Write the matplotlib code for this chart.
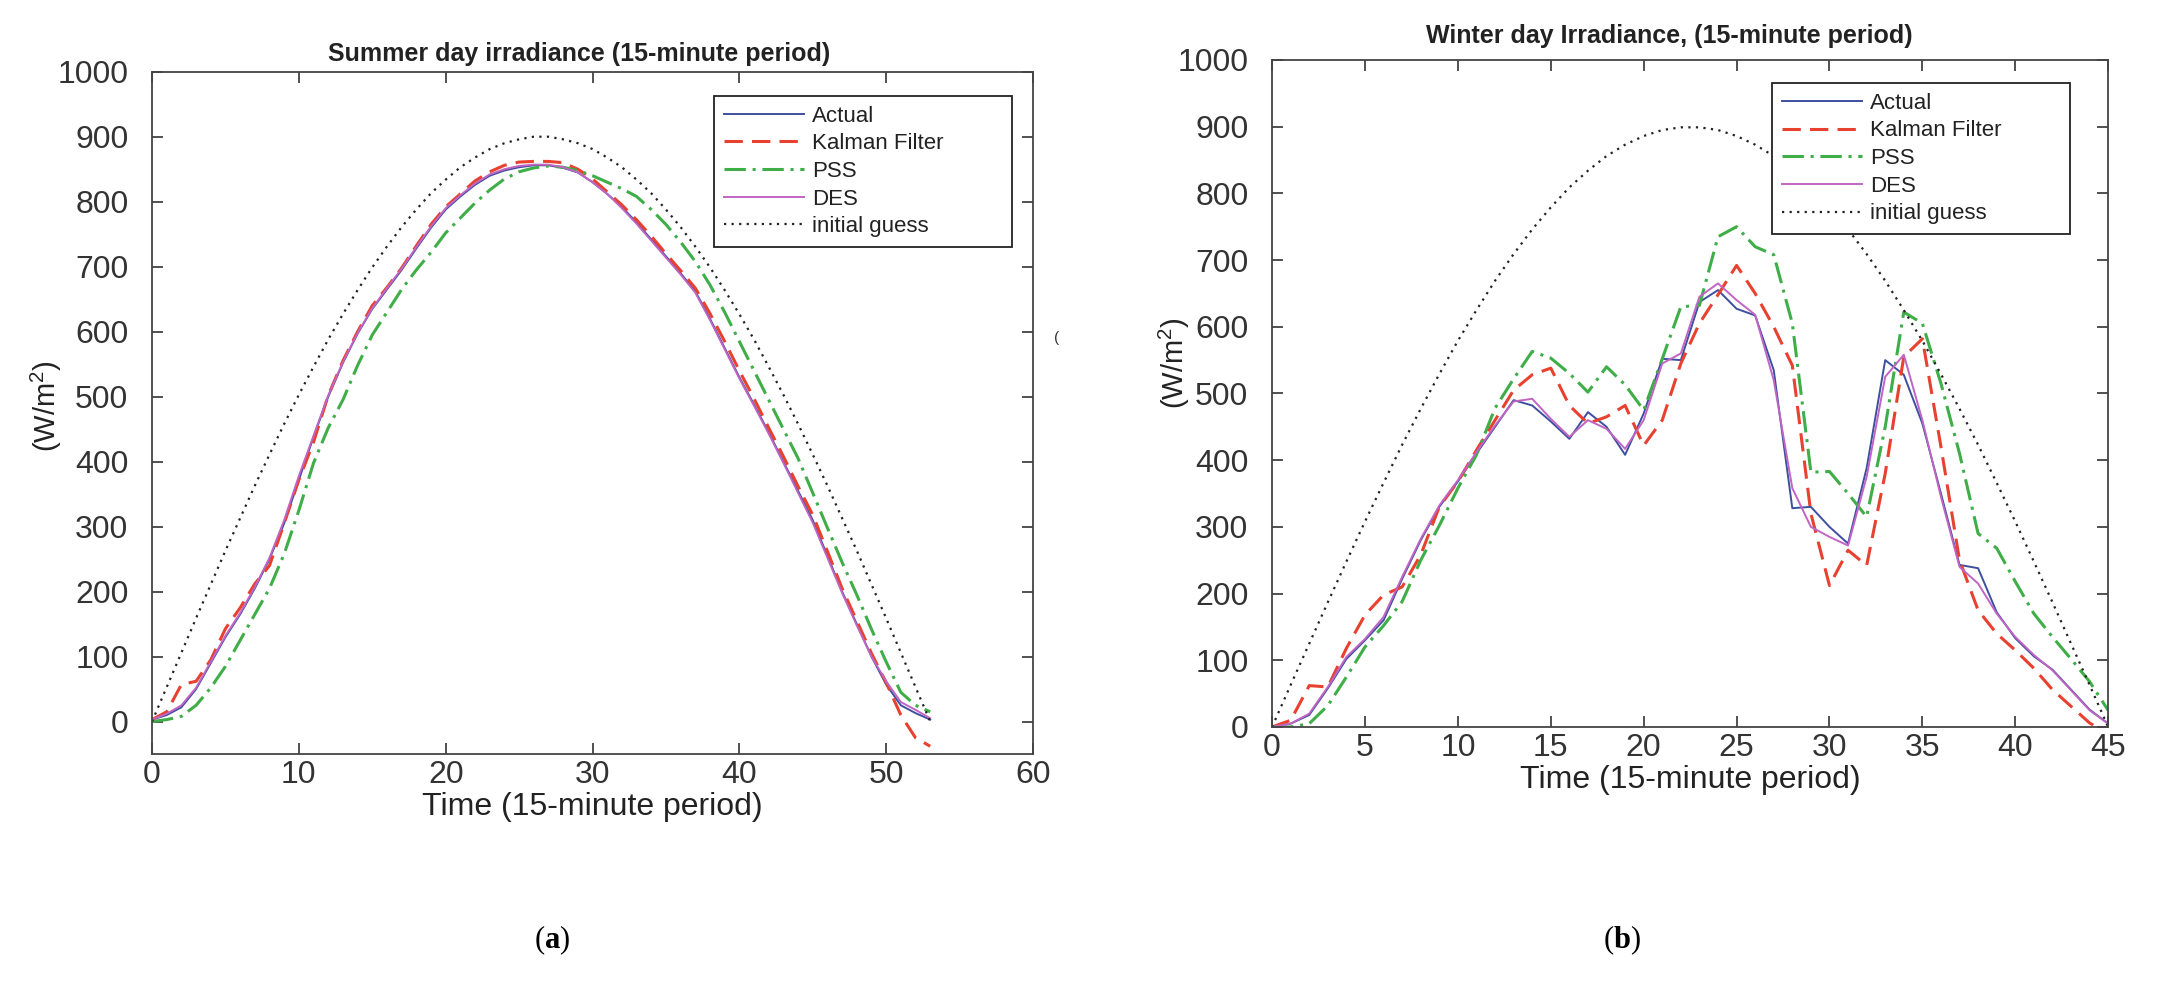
import numpy as np
import matplotlib
matplotlib.use("Agg")
import matplotlib.pyplot as plt

plt.rcParams['font.family'] = ['Liberation Sans', 'DejaVu Sans']
plt.rcParams['mathtext.fontset'] = 'custom'
plt.rcParams['mathtext.rm'] = 'Liberation Sans'
plt.rcParams['mathtext.it'] = 'Liberation Sans:italic'
plt.rcParams['mathtext.bf'] = 'Liberation Serif:bold'

# ---- (a) summer day, 15-minute periods 0..53
t_summer = list(range(54))
summer_actual = [3, 10, 22, 50, 90, 130, 165, 205, 250, 305, 372, 438, 500, 552, 597, 635, 665, 695,
                 728, 760, 788, 808, 826, 840, 848, 853, 856, 856, 852, 845, 830, 812, 792, 768, 742,
                 716, 690, 662, 620, 575, 530, 488, 445, 400, 355, 310, 255, 200, 150, 100, 57, 25, 13, 3]
summer_kalman = [3, 15, 57, 62, 95, 143, 175, 212, 240, 305, 372, 430, 502, 555, 600, 640, 668, 698,
                 732, 765, 792, 812, 832, 846, 856, 861, 862, 862, 860, 850, 835, 815, 795, 772, 747,
                 720, 694, 667, 628, 585, 540, 497, 452, 408, 362, 318, 262, 205, 155, 105, 60, 10, -25, -38]
summer_pss = [0, 3, 8, 25, 52, 85, 125, 165, 205, 258, 325, 398, 452, 495, 548, 595, 630, 665,
              695, 722, 752, 775, 798, 818, 835, 846, 852, 855, 853, 848, 840, 830, 820, 808, 788,
              765, 738, 708, 672, 630, 585, 540, 495, 450, 405, 352, 298, 245, 195, 142, 92, 45, 25, 15]
summer_des = [3, 12, 25, 52, 92, 132, 167, 207, 252, 310, 378, 440, 502, 553, 598, 636, 667, 697,
              730, 762, 790, 810, 828, 842, 850, 855, 857, 857, 853, 845, 830, 812, 790, 766, 740,
              714, 688, 660, 618, 573, 528, 486, 443, 398, 352, 306, 252, 198, 148, 100, 62, 30, 18, 5]
summer_guess = [0, 53, 106, 159, 211, 263, 313, 363, 411, 458, 503, 546, 588, 627, 664, 699, 731, 761,
                788, 813, 834, 853, 868, 881, 890, 896, 900, 900, 896, 890, 881, 868, 853, 834, 813,
                788, 761, 731, 699, 664, 627, 588, 546, 503, 458, 411, 363, 313, 263, 211, 159, 106, 53, 0]

# ---- (b) winter day, 15-minute periods 0..45
t_winter = list(range(46))
winter_actual = [0, 5, 18, 58, 102, 130, 160, 222, 280, 330, 368, 410, 450, 490, 482, 458, 432, 472,
                 450, 408, 470, 552, 550, 637, 655, 627, 617, 535, 328, 330, 300, 275, 388, 550, 528,
                 455, 350, 243, 238, 172, 133, 106, 86, 56, 26, 5]
winter_kalman = [0, 10, 62, 60, 118, 168, 198, 210, 258, 330, 368, 415, 460, 505, 528, 538, 482, 455,
                 465, 482, 422, 460, 545, 605, 648, 692, 650, 600, 542, 320, 212, 265, 242, 380, 555,
                 582, 420, 250, 175, 140, 115, 88, 56, 31, 6, -10]
winter_pss = [0, 0, 5, 32, 75, 120, 152, 188, 250, 302, 358, 408, 478, 522, 563, 553, 530, 502,
              540, 513, 475, 552, 630, 632, 735, 750, 720, 708, 605, 382, 383, 350, 315, 450, 622,
              605, 515, 410, 290, 268, 218, 170, 135, 102, 68, 25]
winter_des = [0, 5, 20, 60, 105, 132, 165, 225, 282, 332, 370, 412, 452, 488, 492, 462, 435, 460,
              447, 417, 460, 545, 560, 645, 665, 640, 618, 520, 358, 300, 285, 272, 375, 525, 558,
              460, 345, 240, 215, 170, 135, 108, 85, 55, 25, 5]
winter_guess = [0, 63, 125, 187, 248, 308, 366, 423, 477, 529, 579, 625, 669, 709, 746, 779, 809, 834,
                856, 873, 886, 895, 899, 899, 895, 886, 873, 856, 834, 809, 779, 746, 709, 669, 625,
                579, 529, 477, 423, 366, 308, 248, 187, 125, 63, 0]

labels = ['Actual', 'Kalman Filter', 'PSS', 'DES', 'initial guess']

fig = plt.figure(figsize=(21.66, 9.88), dpi=100)
ax1 = fig.add_axes([0.0702, 0.2368, 0.4067, 0.6906])
ax2 = fig.add_axes([0.5873, 0.2642, 0.3860, 0.6751])


def draw(ax, t, act, kal, pss, des, guess):
    ax.plot(t, act, '-', color='#3d4f9f', lw=1.4, label=labels[0])
    ax.plot(t, kal, color='#e8412f', lw=2.2, dashes=(6, 3), label=labels[1])
    ax.plot(t, pss, color='#3fae48', lw=2.2, dashes=(7, 2.2, 1, 2.2), label=labels[2])
    ax.plot(t, des, '-', color='#c065c4', lw=1.4, label=labels[3])
    ax.plot(t, guess, color='#222222', lw=1.6, dashes=(1, 2.4), label=labels[4])
    ax.set_yticks(range(0, 1001, 100))
    ax.tick_params(direction='in', top=True, right=True, length=8, width=1.2,
                   labelsize=23, colors='#333333')
    ax.tick_params(axis='y', pad=17)
    ax.tick_params(axis='x', pad=4)
    for s in ax.spines.values():
        s.set_color('#444444')
        s.set_linewidth(1.3)
    ax.set_xlabel('Time (15-minute period)', fontsize=23, color='#222222', labelpad=2)


draw(ax1, t_summer, summer_actual, summer_kalman, summer_pss, summer_des, summer_guess)
ax1.set_xlim(0, 60)
ax1.set_ylim(-50, 1000)
ax1.set_xticks(range(0, 61, 10))
ax1.set_ylabel('(W/m$^2$)', fontsize=21, color='#222222')
ax1.yaxis.set_label_coords(-0.100, 0.51)
ax1.set_title('Summer day irradiance (15-minute period)', fontsize=18, fontweight='bold',
              color='#222222', pad=8, x=0.485)

draw(ax2, t_winter, winter_actual, winter_kalman, winter_pss, winter_des, winter_guess)
ax2.set_xlim(0, 45)
ax2.set_ylim(0, 1000)
ax2.set_xticks(range(0, 46, 5))
ax2.set_ylabel('(W/m$^2$)', fontsize=21, color='#222222')
ax2.yaxis.set_label_coords(-0.096, 0.546)
ax2.set_title('Winter day Irradiance, (15-minute period)', fontsize=18, fontweight='bold',
              color='#222222', pad=12, x=0.475)

for ax, x0, w, top in [(ax1, 0.638, 0.338, 0.965), (ax2, 0.598, 0.356, 0.966)]:
    leg = ax.legend(loc='upper left', bbox_to_anchor=(x0, top, w, 0), mode='expand',
                    borderaxespad=0, fontsize=16, handlelength=3.6, handletextpad=0.35,
                    labelspacing=0.3, borderpad=0.45, fancybox=False, framealpha=1)
    leg.get_frame().set_edgecolor('#222222')
    leg.get_frame().set_linewidth(1.3)
    for txt in leg.get_texts():
        txt.set_color('#222222')

fig.text(1057 / 2166, 1 - 338 / 988, '(', fontsize=11, color='#333333', ha='center', va='center')

fig.text(0.255, 0.048, r'($\mathbf{a}$)', fontsize=22, family='Liberation Serif', ha='center', va='center')
fig.text(0.749, 0.048, r'($\mathbf{b}$)', fontsize=22, family='Liberation Serif', ha='center', va='center')

fig.savefig('out.png', dpi=100, facecolor='white')
